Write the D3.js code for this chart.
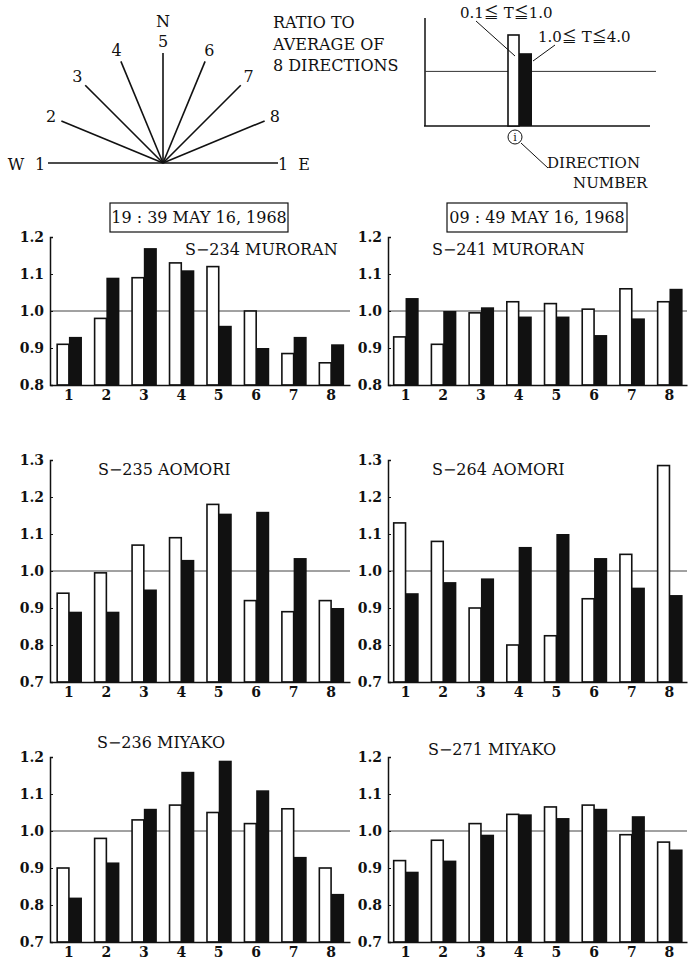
<!DOCTYPE html>
<html>
<head>
<meta charset="utf-8">
<script src="https://cdn.jsdelivr.net/npm/d3@7"></script>
<style>
  body { margin: 0; background: #fff; }
  svg text { font-family: "DejaVu Serif", "Liberation Serif", serif; fill: #111; }
  .cjk { font-family: "Noto Sans CJK JP", sans-serif; }
</style>
</head>
<body>
<svg width="694" height="963"></svg>
<script>
const directions = ['1', '2', '3', '4', '5', '6', '7', '8'];
const ticksMuroran = [0.8, 0.9, 1.0, 1.1, 1.2];
const ticksAomori = [0.7, 0.8, 0.9, 1.0, 1.1, 1.2, 1.3];
const ticksMiyako = [0.7, 0.8, 0.9, 1.0, 1.1, 1.2];

// white bars: 0.1 <= T <= 1.0 sec, black bars: 1.0 <= T <= 4.0 sec
const s234Short = [0.91, 0.98, 1.09, 1.13, 1.12, 1.00, 0.885, 0.86];
const s234Long  = [0.93, 1.09, 1.17, 1.11, 0.96, 0.90, 0.93, 0.91];
const s241Short = [0.93, 0.91, 0.995, 1.025, 1.02, 1.005, 1.06, 1.025];
const s241Long  = [1.035, 1.00, 1.01, 0.985, 0.985, 0.935, 0.98, 1.06];
const s235Short = [0.94, 0.995, 1.07, 1.09, 1.18, 0.92, 0.89, 0.92];
const s235Long  = [0.89, 0.89, 0.95, 1.03, 1.155, 1.16, 1.035, 0.90];
const s264Short = [1.13, 1.08, 0.90, 0.80, 0.825, 0.925, 1.045, 1.285];
const s264Long  = [0.94, 0.97, 0.98, 1.065, 1.10, 1.035, 0.955, 0.935];
const s236Short = [0.90, 0.98, 1.03, 1.07, 1.05, 1.02, 1.06, 0.90];
const s236Long  = [0.82, 0.915, 1.06, 1.16, 1.19, 1.11, 0.93, 0.83];
const s271Short = [0.92, 0.975, 1.02, 1.045, 1.065, 1.07, 0.99, 0.97];
const s271Long  = [0.89, 0.92, 0.99, 1.045, 1.035, 1.06, 1.04, 0.95];

const legendShort = 1.10, legendLong = 1.05;

const svg = d3.select('svg');

// ---------------- compass diagram ----------------
const cx = 163, cy = 163;
const compass = svg.append('g');
compass.append('line')
  .attr('x1', 48).attr('x2', 278).attr('y1', cy).attr('y2', cy)
  .attr('stroke', '#111').attr('stroke-width', 1.6);
directions.slice(1).forEach((d, i) => {
  const a = Math.PI - (i + 1) * Math.PI / 8;
  compass.append('line')
    .attr('x1', cx).attr('y1', cy)
    .attr('x2', cx + 110 * Math.cos(a)).attr('y2', cy - 110 * Math.sin(a))
    .attr('stroke', '#111').attr('stroke-width', 1.6);
  compass.append('text')
    .attr('x', cx + 121 * Math.cos(a)).attr('y', cy - 121 * Math.sin(a) + 5)
    .attr('text-anchor', 'middle')
    .style('font-size', '16px')
    .text(d);
});
[['W', 16], ['1', 40], ['1', 283], ['E', 304]].forEach(([t, x]) => {
  compass.append('text').attr('x', x).attr('y', 170)
    .attr('text-anchor', 'middle').style('font-size', '16px').text(t);
});
compass.append('text').attr('x', 163).attr('y', 27)
  .attr('text-anchor', 'middle').style('font-size', '16px').text('N');
['RATIO TO', 'AVERAGE OF', '8 DIRECTIONS'].forEach((t, i) => {
  compass.append('text').attr('x', 273).attr('y', 28 + i * 21.5)
    .style('font-size', '16px').text(t);
});

// ---------------- legend sketch ----------------
const lg = svg.append('g');
const ly = d3.scaleLinear().domain([0.85, 1.1]).range([126, 35]);
lg.append('line').attr('x1', 425).attr('x2', 425).attr('y1', 18).attr('y2', 126)
  .attr('stroke', '#111').attr('stroke-width', 1.5);
lg.append('line').attr('x1', 424).attr('x2', 650).attr('y1', 126).attr('y2', 126)
  .attr('stroke', '#111').attr('stroke-width', 1.5);
lg.append('line').attr('x1', 425).attr('x2', 656).attr('y1', ly(1)).attr('y2', ly(1))
  .attr('stroke', '#333').attr('stroke-width', 1);
lg.append('rect').attr('x', 508).attr('width', 11)
  .attr('y', ly(legendShort)).attr('height', ly(0.85) - ly(legendShort))
  .attr('fill', '#fff').attr('stroke', '#111').attr('stroke-width', 1.6);
lg.append('rect').attr('x', 519).attr('width', 13)
  .attr('y', ly(legendLong)).attr('height', ly(0.85) - ly(legendLong))
  .attr('fill', '#111');
lg.append('line').attr('x1', 476).attr('y1', 21).attr('x2', 515).attr('y2', 56)
  .attr('stroke', '#111').attr('stroke-width', 1);
lg.append('line').attr('x1', 555).attr('y1', 45).attr('x2', 533).attr('y2', 61)
  .attr('stroke', '#111').attr('stroke-width', 1);

function rangeLabel(xPos, yPos, lo, hi) {
  const t = lg.append('text').attr('x', xPos).attr('y', yPos).style('font-size', '15px');
  t.append('tspan').text(lo);
  t.append('tspan').attr('class', 'cjk').text('≦');
  t.append('tspan').text(' T');
  t.append('tspan').attr('class', 'cjk').text('≦');
  t.append('tspan').text(hi);
}
rangeLabel(460, 18, '0.1', '1.0');
rangeLabel(538, 42, '1.0', '4.0');

lg.append('circle').attr('cx', 515).attr('cy', 137).attr('r', 7)
  .attr('fill', 'none').attr('stroke', '#111').attr('stroke-width', 1);
lg.append('text').attr('x', 515).attr('y', 141).attr('text-anchor', 'middle')
  .style('font-size', '11px').text('i');
lg.append('line').attr('x1', 521).attr('y1', 143).attr('x2', 548).attr('y2', 168)
  .attr('stroke', '#111').attr('stroke-width', 1);
lg.append('text').attr('x', 547).attr('y', 168).style('font-size', '15px').text('DIRECTION');
lg.append('text').attr('x', 573).attr('y', 188).style('font-size', '15px').text('NUMBER');

// ---------------- headers ----------------
[['19 : 39  MAY 16, 1968', 110, 288], ['09 : 49  MAY 16, 1968', 447, 627]].forEach(([t, x0, x1]) => {
  svg.append('rect').attr('x', x0).attr('y', 203).attr('width', x1 - x0).attr('height', 29)
    .attr('fill', 'none').attr('stroke', '#111').attr('stroke-width', 1.2);
  svg.append('text').attr('x', (x0 + x1) / 2).attr('y', 223)
    .attr('text-anchor', 'middle').style('font-size', '16px').text(t);
});

// ---------------- panels ----------------
const panels = [
  { name: 'S−234 MURORAN', short: s234Short, long: s234Long, ticks: ticksMuroran, x: [50, 350], y: [385, 237], tx: 185, ty: 255 },
  { name: 'S−241 MURORAN', short: s241Short, long: s241Long, ticks: ticksMuroran, x: [388, 687], y: [385, 237], tx: 432, ty: 255 },
  { name: 'S−235 AOMORI', short: s235Short, long: s235Long, ticks: ticksAomori, x: [50, 350], y: [682, 460], tx: 98, ty: 475 },
  { name: 'S−264 AOMORI', short: s264Short, long: s264Long, ticks: ticksAomori, x: [388, 687], y: [682, 460], tx: 432, ty: 475 },
  { name: 'S−236 MIYAKO', short: s236Short, long: s236Long, ticks: ticksMiyako, x: [50, 350], y: [942, 757], tx: 97, ty: 748 },
  { name: 'S−271 MIYAKO', short: s271Short, long: s271Long, ticks: ticksMiyako, x: [388, 687], y: [942, 757], tx: 428, ty: 755 }
];

panels.forEach(p => {
  const g = svg.append('g');
  const x = d3.scaleBand().domain(directions).range(p.x)
    .paddingInner(0.33).paddingOuter(p.x[0] < 100 ? 0.17 : 0.13);
  const x1 = d3.scaleBand().domain(['short', 'long']).range([0, x.bandwidth()]);
  const y = d3.scaleLinear().domain(d3.extent(p.ticks)).range(p.y);
  const base = y.domain()[0];

  const rows = directions.map((d, i) => ({ dir: d, short: p.short[i], long: p.long[i] }));

  // reference line at 1.0
  g.append('line').attr('x1', p.x[0]).attr('x2', p.x[1])
    .attr('y1', y(1)).attr('y2', y(1))
    .attr('stroke', '#444').attr('stroke-width', 1);

  const grp = g.selectAll('g.dir').data(rows).enter().append('g')
    .attr('transform', d => `translate(${x(d.dir)},0)`);
  grp.append('rect')
    .attr('x', x1('short') + 0.8).attr('width', x1.bandwidth() - 0.8)
    .attr('y', d => y(d.short)).attr('height', d => y(base) - y(d.short))
    .attr('fill', '#fff').attr('stroke', '#111').attr('stroke-width', 1.6);
  grp.append('rect')
    .attr('x', x1('long')).attr('width', x1.bandwidth() + 0.5)
    .attr('y', d => y(d.long)).attr('height', d => y(base) - y(d.long))
    .attr('fill', '#111');

  const yAxis = d3.axisLeft(y).tickValues(p.ticks).tickSize(-3).tickPadding(6)
    .tickFormat(d3.format('.1f'));
  const ya = g.append('g').attr('transform', `translate(${p.x[0]},0)`).call(yAxis);
  ya.select('.domain').attr('stroke', '#111').attr('stroke-width', 1.5);
  ya.selectAll('.tick line').attr('stroke', '#111');
  ya.selectAll('text').style('font-size', '14px').style('font-weight', 'bold')
    .style('font-family', '"DejaVu Serif", serif').attr('fill', '#111');

  const xAxis = d3.axisBottom(x).tickSize(0).tickPadding(5);
  const xa = g.append('g').attr('transform', `translate(0,${y(base)})`).call(xAxis);
  xa.select('.domain').attr('stroke', '#111').attr('stroke-width', 1.5);
  xa.selectAll('text').style('font-size', '14px').style('font-weight', 'bold')
    .style('font-family', '"DejaVu Serif", serif').attr('fill', '#111');

  g.append('text').attr('x', p.tx).attr('y', p.ty)
    .style('font-size', '16px').text(p.name);
});
</script>
</body>
</html>
